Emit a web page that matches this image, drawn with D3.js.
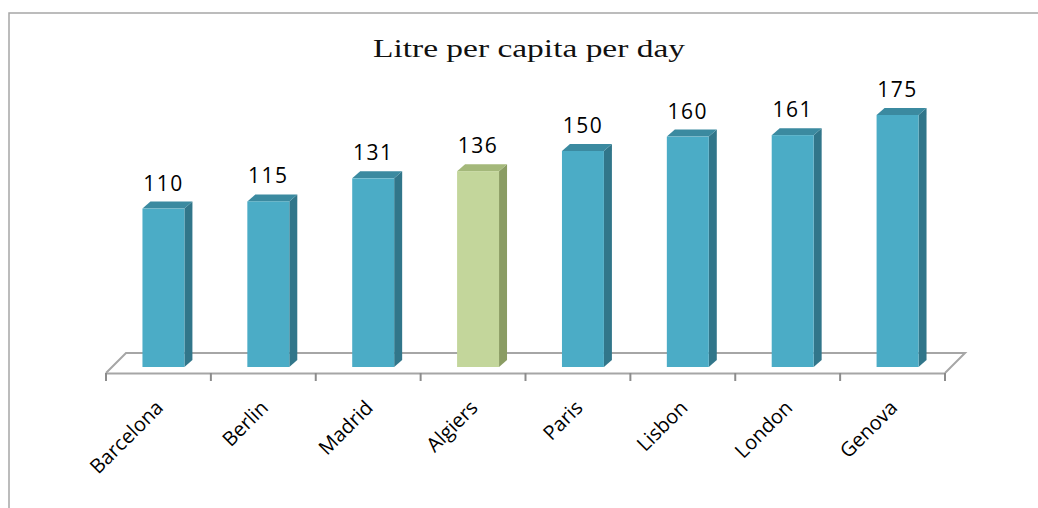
<!DOCTYPE html>
<html>
<head>
<meta charset="utf-8">
<script src="https://cdn.jsdelivr.net/npm/d3@7"></script>
<style>
  body { margin: 0; background: #fff; }
  svg { display: block; }
</style>
</head>
<body>
<div id="chart"></div>
<script>
//////////////////// data ////////////////////
var cities = ["Barcelona", "Berlin", "Madrid", "Algiers", "Paris", "Lisbon", "London", "Genova"];
var litres = [110, 115, 131, 136, 150, 160, 161, 175];
var highlight = ["Algiers"];
var chartTitle = "Litre per capita per day";

//////////////////// svg ////////////////////
var svgWidth = 1038;
var svgHeight = 508;

var svg = d3.select("#chart").append("svg")
  .attr("width", svgWidth)
  .attr("height", svgHeight);

// outer frame (runs off the right and bottom edge)
svg.append("rect")
  .attr("x", 9).attr("y", 13)
  .attr("width", 1100).attr("height", 600)
  .attr("fill", "none")
  .attr("stroke", "#a6a6a6")
  .attr("stroke-width", 1.5);

svg.append("text")
  .attr("x", 529).attr("y", 57)
  .attr("text-anchor", "middle")
  .attr("font-family", "'Liberation Serif', serif")
  .attr("font-size", 25)
  .attr("textLength", 312)
  .attr("lengthAdjust", "spacingAndGlyphs")
  .attr("fill", "#111")
  .text(chartTitle);

//////////////////// scales ////////////////////
var depthX = 20, depthY = 20;   // floor depth
var barDX = 8, barDY = 7;       // bar depth

var floorFront = 373;
var xAxisScale = d3.scaleBand().domain(cities).range([106, 945]);

var xScale = d3.scaleBand()
  .domain(cities)
  .range([111, 950])
  .paddingInner(0.6)
  .paddingOuter(0.3);

var yScale = d3.scaleLinear()
  .domain([0, 200])
  .range([367, 79]);

//////////////////// floor ////////////////////
var floor = svg.append("g")
  .attr("fill", "none")
  .attr("stroke", "#a6a6a6")
  .attr("stroke-width", 2);

var x0 = xAxisScale.range()[0], x1 = xAxisScale.range()[1];
floor.append("path")
  .attr("d", `M${x0},${floorFront} L${x0 + depthX},${floorFront - depthY} L${x1 + depthX},${floorFront - depthY} L${x1},${floorFront}`);

// front axis
var xAxis = d3.axisBottom(xAxisScale).tickSize(8).tickSizeOuter(0).tickFormat("");
var axisG = svg.append("g")
  .attr("transform", `translate(0, ${floorFront})`)
  .call(xAxis);
axisG.select(".domain").attr("stroke", "#a6a6a6").attr("stroke-width", 2);
axisG.selectAll(".tick").remove();
// ticks on category boundaries
var bounds = cities.map(c => xAxisScale(c)).concat([x1]);
axisG.selectAll("line.bound")
  .data(bounds)
  .enter()
  .append("line")
  .attr("class", "bound")
  .attr("x1", d => d).attr("x2", d => d)
  .attr("y1", 0).attr("y2", 8)
  .attr("stroke", "#8c8c8c")
  .attr("stroke-width", 2);

//////////////////// bars ////////////////////
function colours(c) {
  if (highlight.indexOf(c) >= 0) return { front: "#c3d69b", side: "#8a9c63", top: "#a4b87a" };
  return { front: "#4bacc6", side: "#31768a", top: "#3b8aa0" };
}

var data = cities.map((c, i) => ({ city: c, value: litres[i] }));

var bars = svg.selectAll("g.bar")
  .data(data)
  .enter()
  .append("g")
  .attr("class", "bar");

var bw = xScale.bandwidth();

// side
bars.append("path")
  .attr("d", d => {
    var x = xScale(d.city) + bw, yt = yScale(d.value), yb = yScale(0);
    return `M${x},${yt} L${x + barDX},${yt - barDY} L${x + barDX},${yb - barDY} L${x},${yb} Z`;
  })
  .attr("fill", d => colours(d.city).side);

// top
bars.append("path")
  .attr("d", d => {
    var x = xScale(d.city), yt = yScale(d.value);
    return `M${x},${yt} L${x + barDX},${yt - barDY} L${x + bw + barDX},${yt - barDY} L${x + bw},${yt} Z`;
  })
  .attr("fill", d => colours(d.city).top);

// front
bars.append("rect")
  .attr("x", d => xScale(d.city))
  .attr("y", d => yScale(d.value))
  .attr("width", bw)
  .attr("height", d => yScale(0) - yScale(d.value))
  .attr("fill", d => colours(d.city).front);

// value labels
bars.append("text")
  .attr("x", d => xScale(d.city) + bw / 2)
  .attr("y", d => yScale(d.value) - 18)
  .attr("text-anchor", "middle")
  .attr("font-family", "'Open Sans', sans-serif")
  .attr("font-size", 21)
  .attr("letter-spacing", 1.5)
  .attr("fill", "#000")
  .text(d => d.value);

//////////////////// category labels ////////////////////
svg.selectAll("text.cat")
  .data(cities)
  .enter()
  .append("text")
  .attr("class", "cat")
  .attr("text-anchor", "end")
  .attr("font-family", "'Open Sans', sans-serif")
  .attr("font-size", 20)
  .attr("fill", "#000")
  .attr("transform", d => `translate(${xAxisScale(d) + xAxisScale.bandwidth() / 2 + 6}, 409) rotate(-45)`)
  .text(d => d);
</script>
</body>
</html>
